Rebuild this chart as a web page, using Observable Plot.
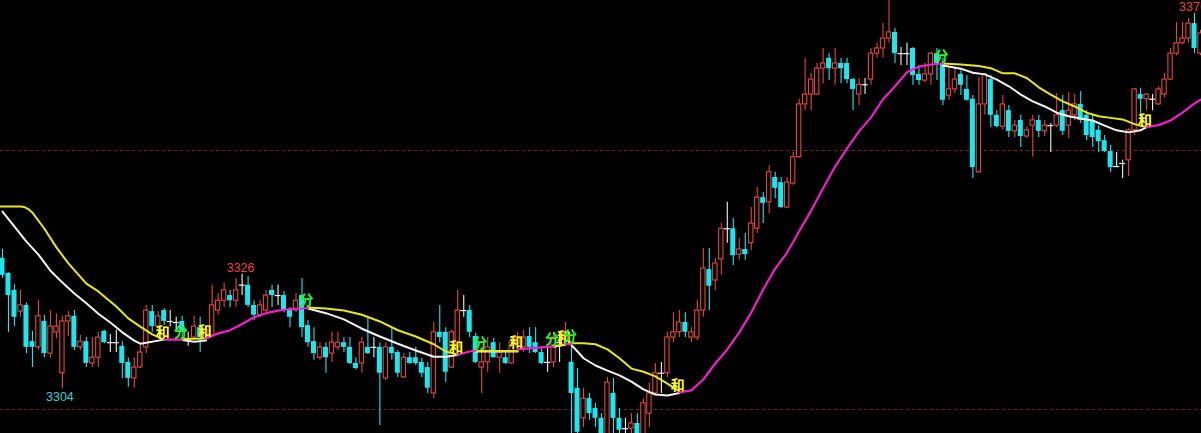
<!DOCTYPE html>
<html>
<head>
<meta charset="utf-8">
<script src="https://cdn.jsdelivr.net/npm/d3@7"></script>
<script src="https://cdn.jsdelivr.net/npm/@observablehq/plot@0.6"></script>
<style>
html,body{margin:0;padding:0;background:#000;overflow:hidden;}
#chart svg{display:block;}
</style>
</head>
<body>
<div id="chart"></div>
<script>
// ---- candle data (index 0..200) ----
const opens = [
3329.2,3326.3,3323.0,3318.9,3320.1,3313.1,3312.0,3317.0,3310.8,3314.9,
3307.0,3317.0,3318.0,3312.0,3313.1,3308.9,3310.0,3315.1,3312.9,3312.9,
3312.2,3309.1,3306.0,3308.1,3312.0,3318.9,3316.0,3319.1,3317.0,3316.8,
3317.0,3313.7,3313.9,3315.8,3313.7,3314.3,3319.1,3321.0,3322.0,3321.0,
3324.0,3324.0,3320.1,3318.2,3319.1,3323.0,3322.0,3322.0,3319.1,3319.1,
3322.0,3316.2,3313.1,3310.0,3312.0,3310.8,3312.0,3312.9,3312.0,3308.9,
3308.9,3312.0,3312.0,3312.0,3306.0,3312.0,3311.0,3306.2,3310.0,3310.0,
3309.1,3308.1,3303.1,3314.9,3314.9,3308.1,3312.0,3319.1,3319.1,3314.1,
3308.1,3309.1,3312.9,3310.0,3310.0,3308.9,3312.7,3312.0,3314.1,3312.9,
3311.0,3309.1,3309.1,3312.9,3313.9,3309.1,3304.1,3298.3,3302.1,3300.2,
3298.3,3294.8,3303.1,3298.3,3296.3,3296.3,3297.3,3294.8,3299.2,3303.1,
3307.0,3307.0,3313.9,3314.9,3316.8,3313.9,3313.9,3319.1,3327.0,3324.9,
3329.0,3334.9,3334.9,3329.9,3330.9,3332.1,3334.9,3340.9,3340.0,3344.8,
3343.8,3339.0,3343.6,3348.7,3358.9,3360.8,3360.8,3365.8,3367.8,3365.8,
3366.8,3366.8,3363.7,3360.8,3362.7,3363.7,3368.7,3369.7,3371.6,3372.8,
3368.7,3368.7,3369.7,3364.7,3363.5,3364.7,3368.7,3366.8,3360.6,3361.8,
3364.7,3361.8,3359.9,3345.8,3358.9,3363.7,3356.8,3354.6,3357.7,3353.7,
3355.8,3352.7,3354.8,3355.8,3353.7,3354.8,3354.8,3357.7,3354.8,3356.8,
3358.9,3356.8,3355.8,3353.9,3351.9,3349.8,3346.9,3347.5,3348.1,3353.9,
3360.8,3359.9,3359.9,3358.9,3360.8,3363.7,3368.7,3370.7,3371.6,3374.5,3368.7
];
const highs = [
3330.9,3326.4,3324.1,3323.0,3320.6,3315.1,3321.0,3318.2,3319.1,3318.5,
3318.0,3318.9,3319.1,3314.3,3313.9,3313.9,3314.9,3315.3,3314.5,3315.3,
3313.1,3310.0,3310.0,3312.7,3320.1,3320.1,3318.9,3319.5,3319.1,3317.8,
3318.0,3314.9,3318.0,3317.8,3316.2,3324.0,3322.4,3324.4,3323.0,3325.3,
3326.1,3325.7,3321.0,3321.0,3323.0,3324.0,3324.0,3322.8,3319.7,3322.4,
3325.3,3317.2,3315.8,3312.9,3312.9,3314.9,3314.9,3313.9,3313.9,3310.0,
3313.9,3317.8,3313.9,3312.9,3312.9,3315.8,3311.4,3310.8,3311.0,3312.0,
3309.9,3309.1,3316.8,3320.1,3315.8,3315.3,3323.0,3322.0,3320.1,3314.7,
3312.0,3313.9,3313.7,3312.9,3311.0,3313.9,3314.9,3315.3,3315.8,3315.8,
3312.0,3312.0,3314.9,3314.9,3316.8,3312.4,3307.9,3304.1,3303.1,3301.2,
3299.2,3306.2,3306.0,3300.2,3298.3,3299.2,3299.2,3302.1,3305.1,3308.9,
3309.1,3314.9,3318.7,3319.1,3318.7,3315.8,3321.0,3331.1,3331.1,3329.2,
3335.9,3340.0,3336.9,3333.0,3334.0,3339.0,3342.9,3341.9,3347.1,3345.8,
3344.8,3344.8,3349.6,3359.9,3367.8,3364.9,3366.8,3369.7,3368.7,3369.7,
3367.8,3367.8,3363.9,3363.9,3363.9,3369.7,3370.7,3374.5,3380.0,3373.6,
3369.9,3370.7,3369.9,3366.4,3366.8,3369.0,3369.7,3367.8,3366.0,3365.8,
3365.4,3364.5,3360.6,3364.1,3364.9,3364.5,3357.7,3360.6,3358.7,3355.8,
3356.8,3354.6,3356.8,3356.8,3355.8,3355.2,3361.0,3360.6,3361.2,3360.8,
3361.4,3357.7,3356.8,3354.8,3352.9,3351.0,3349.6,3348.1,3354.2,3362.0,
3362.0,3361.0,3360.8,3362.2,3364.9,3369.7,3374.7,3374.7,3375.5,3376.5,3373.2
];
const lows = [
3325.3,3314.9,3316.0,3317.8,3310.8,3308.1,3311.4,3310.0,3309.9,3313.7,
3304.0,3314.1,3311.4,3311.4,3308.1,3308.1,3308.1,3312.7,3311.0,3311.0,
3306.0,3304.3,3304.1,3307.9,3310.8,3314.9,3315.3,3316.2,3316.0,3314.9,
3313.7,3312.2,3313.7,3311.0,3313.3,3313.9,3318.2,3319.7,3319.7,3319.7,
3322.0,3319.7,3317.2,3317.8,3318.5,3319.7,3320.1,3318.7,3315.8,3318.7,
3313.9,3312.0,3309.5,3309.5,3307.0,3309.1,3311.4,3311.0,3308.7,3307.7,
3307.0,3310.6,3310.0,3296.9,3305.6,3309.5,3306.2,3306.0,3308.7,3308.5,
3306.2,3303.1,3302.1,3312.9,3305.2,3307.9,3311.4,3317.8,3313.9,3308.9,
3303.1,3307.2,3309.9,3307.0,3308.7,3308.7,3312.4,3311.0,3310.8,3310.8,
3308.7,3307.2,3308.1,3309.1,3313.3,3294.0,3294.0,3296.5,3297.9,3296.5,
3294.0,3294.0,3294.0,3294.0,3294.0,3294.0,3294.0,3294.0,3296.5,3302.7,
3303.1,3306.2,3312.9,3313.9,3313.9,3312.9,3313.3,3317.8,3319.1,3323.0,
3325.9,3332.1,3327.8,3328.8,3328.8,3330.7,3334.0,3335.9,3337.8,3340.7,
3338.8,3338.8,3343.3,3348.5,3357.7,3357.7,3360.6,3362.9,3363.5,3362.6,
3362.9,3362.9,3357.7,3358.7,3360.8,3362.6,3367.8,3367.8,3370.7,3366.8,
3366.4,3366.4,3362.6,3362.6,3363.1,3362.6,3363.5,3358.7,3359.7,3361.0,
3360.6,3359.5,3344.6,3345.6,3356.8,3354.4,3354.4,3353.9,3352.5,3352.5,
3350.6,3352.3,3348.7,3352.5,3352.7,3349.6,3354.4,3352.9,3352.3,3355.8,
3355.2,3351.9,3350.6,3349.6,3349.6,3345.8,3346.7,3344.6,3345.0,3352.9,
3355.8,3357.7,3357.7,3358.7,3360.2,3363.5,3368.3,3370.5,3370.7,3368.7,3368.3
];
const closes = [
3325.9,3322.0,3317.8,3320.1,3312.0,3312.0,3318.0,3310.8,3316.0,3316.0,
3317.0,3318.0,3312.0,3313.1,3308.9,3310.0,3313.9,3312.9,3312.9,3312.9,
3308.9,3306.0,3308.1,3311.0,3319.1,3316.0,3318.0,3317.0,3317.0,3316.8,
3314.9,3313.7,3316.0,3313.9,3315.3,3320.1,3321.0,3323.0,3321.0,3323.0,
3324.0,3320.1,3318.2,3320.1,3322.0,3322.0,3322.0,3319.1,3317.8,3321.0,
3315.8,3312.9,3310.8,3312.0,3310.0,3312.9,3312.9,3312.0,3308.9,3307.9,
3312.9,3310.8,3312.0,3307.0,3312.0,3310.8,3307.0,3310.0,3308.9,3308.9,
3307.0,3304.1,3314.9,3313.9,3307.2,3314.9,3319.1,3319.1,3314.9,3309.1,
3309.1,3312.0,3310.0,3311.0,3308.9,3312.9,3313.9,3313.9,3312.0,3311.0,
3308.9,3309.1,3313.9,3312.9,3314.9,3303.1,3295.6,3302.1,3299.2,3298.3,
3295.0,3305.2,3298.3,3296.0,3296.3,3297.3,3294.8,3301.2,3303.1,3307.0,
3307.0,3313.9,3314.9,3316.8,3314.9,3314.9,3319.1,3327.2,3323.8,3328.2,
3334.9,3334.9,3329.7,3330.9,3329.9,3335.9,3340.9,3339.8,3345.8,3342.7,
3339.0,3343.8,3348.7,3358.9,3360.8,3363.7,3365.8,3366.8,3365.8,3366.8,
3365.8,3363.7,3361.8,3362.7,3362.7,3368.7,3369.7,3371.6,3372.8,3368.7,
3368.7,3368.7,3364.5,3363.5,3364.7,3368.7,3366.8,3359.7,3361.8,3363.7,
3362.6,3359.7,3346.7,3358.9,3364.7,3356.8,3354.6,3358.9,3353.7,3354.8,
3352.7,3353.9,3355.8,3353.7,3354.8,3354.8,3356.8,3353.7,3357.7,3358.9,
3355.8,3352.9,3352.5,3351.7,3349.8,3346.7,3346.9,3347.5,3353.9,3361.8,
3359.9,3360.8,3359.9,3361.8,3363.7,3368.7,3370.7,3371.6,3374.5,3369.7,3372.6
];

// ---- indicator lines: [candle index, value], one array per visible segment ----
const whiteSegs = [
  [[0,3338.2],[2,3335.3],[4,3332.4],[6,3329.9],[8,3326.8],[10,3324.5],[12,3322.4],[14,3320.5],[16,3318.5],[18,3316.8],[20,3314.9],[22,3313.3],[23,3312.7],[24,3312.9],[26,3313.3],[27,3313.5]],
  [[30,3313.4],[32,3313.1],[34,3313.3]],
  [[51,3319.5],[54,3318.6],[57,3317.4],[60,3315.6],[63,3314.1],[66,3312.7],[69,3311.4],[72,3310.2],[74,3310.2],[76,3310.5]],
  [[79,3311.2],[86,3311.2]],
  [[92,3312.1],[94,3312.5]],
  [[95,3312.4],[96,3311.2],[97,3309.9],[99,3308.5],[101,3307.5],[103,3306.6],[105,3305.4],[107,3303.9],[109,3302.9],[111,3302.7],[113,3303.2]],
  [[157,3366.4],[160,3365.8],[162,3365.0],[164,3364.7],[166,3363.7],[168,3362.4],[170,3360.8],[172,3359.5],[174,3358.5],[176,3357.3],[178,3356.6],[180,3356.2],[182,3355.8],[184,3354.8],[186,3353.9],[188,3353.5],[190,3353.9],[191,3354.5]]
];
const yellowSegs = [
  [[-0.4,3339.2],[3,3339.2],[3.6,3339.1],[4.3,3338.7],[5,3338.0],[7,3334.9],[9,3331.3],[11,3328.2],[14,3324.3],[16,3322.8],[19,3319.9],[21,3317.6],[23,3316.0],[25,3314.5],[27,3313.5]],
  [[30,3313.6],[34,3313.7]],
  [[51,3319.7],[54,3319.5],[57,3319.1],[60,3318.3],[63,3317.0],[66,3315.3],[69,3314.1],[72,3312.6],[74,3311.2],[76,3310.6]],
  [[79,3311.3],[86,3311.3]],
  [[92,3312.2],[94,3312.6]],
  [[95,3312.8],[97,3312.8],[99,3312.6],[101,3311.6],[103,3309.9],[105,3307.9],[107,3307.3],[109,3306.4],[111,3305.0],[113,3303.5]],
  [[157,3366.8],[160,3366.6],[163,3366.3],[165,3365.9],[167,3364.9],[169,3364.9],[171,3364.0],[173,3362.2],[175,3360.8],[177,3359.5],[179,3358.5],[181,3357.3],[183,3356.6],[185,3356.3],[187,3356.0],[189,3355.1],[191,3354.5]]
];
const magentaSegs = [
  [[27,3313.5],[30,3313.5]],
  [[34,3313.7],[36,3314.7],[38,3315.3],[40,3316.5],[42,3317.8],[44,3318.6],[46,3319.1],[48,3319.4],[50,3319.5],[51,3319.6]],
  [[76,3310.6],[78,3311.2],[79,3311.4]],
  [[86,3311.6],[89,3311.9],[92,3312.2]],
  [[94,3312.6],[95,3312.7]],
  [[113,3303.3],[115,3303.7],[117,3305.8],[119,3308.9],[121,3311.6],[123,3314.9],[125,3318.7],[127,3323.2],[129,3327.2],[131,3330.3],[133,3334.4],[135,3338.4],[137,3342.7],[139,3346.9],[141,3350.4],[143,3353.7],[145,3356.4],[147,3359.9],[149,3362.4],[151,3365.1],[153,3366.2],[155,3366.6],[157,3366.8]],
  [[191,3354.5],[193,3354.9],[195,3355.8],[197,3357.3],[199,3359.1],[200,3359.8]]
];

// ---- signal markers ----
const markerIdx  = [27, 30, 34, 51, 76, 80, 86, 92, 94, 95, 113, 157, 191];
const markerText = ["和","分","和","分","和","分","和","分","和","分","和","分","和"];
const markerVal  = [3313.5,3313.5,3313.7,3319.6,3310.6,3311.3,3311.6,3312.2,3312.6,3312.8,3303.3,3366.8,3354.5];

// ---- extreme labels ----
const highLabelIdx  = [40, 199];
const highLabelText = ["3326", "3376"];
const lowLabelIdx   = [10];
const lowLabelText  = ["3304"];

// ---- reference levels ----
const gridLevels = [3300, 3350];

const RED = "#e4483e", CYAN = "#1ee6ee", WHITE = "#f4f4f4";

const candles = opens.map((o, i) => ({i, o, h: highs[i], l: lows[i], c: closes[i]}));
const upC = candles.filter(d => d.c > d.o);
const downC = candles.filter(d => d.c < d.o);
const dojiC = candles.filter(d => d.c === d.o);

const flat = segs => segs.flatMap((s, k) => s.map(([i, v]) => ({i, v, k})));
const markers = markerIdx.map((i, k) => ({i, v: markerVal[k], t: markerText[k]}));
const highLabels = highLabelIdx.map((i, k) => ({i, v: highs[i], t: highLabelText[k]}));
const lowLabels = lowLabelIdx.map((i, k) => ({i, v: lows[i], t: lowLabelText[k]}));

const chart = Plot.plot({
  width: 1201,
  height: 433,
  margin: 0,
  style: {background: "#000", overflow: "hidden"},
  x: {type: "linear", domain: [-2 / 5.99, 1199 / 5.99], axis: null},
  y: {type: "linear", domain: [3295.37, 3378.96], axis: null},
  marks: [
    Plot.ruleY(gridLevels, {stroke: "#8a1e1e", strokeWidth: 1, strokeDasharray: "3,3"}),
    Plot.ruleX(upC, {x: "i", y1: "l", y2: "h", stroke: RED, strokeWidth: 1.1, clip: true}),
    Plot.ruleX(downC, {x: "i", y1: "l", y2: "h", stroke: CYAN, strokeWidth: 1.1, clip: true}),
    Plot.ruleX(dojiC, {x: "i", y1: "l", y2: "h", stroke: WHITE, strokeWidth: 1.1, clip: true}),
    Plot.rect(upC, {x1: d => d.i - 0.36, x2: d => d.i + 0.36, y1: "o", y2: "c", fill: "#000", stroke: RED, strokeWidth: 1.1, clip: true}),
    Plot.rect(downC, {x1: d => d.i - 0.42, x2: d => d.i + 0.42, y1: "o", y2: "c", fill: CYAN, clip: true}),
    Plot.ruleY(dojiC, {x1: d => d.i - 0.5, x2: d => d.i + 0.5, y: "o", stroke: WHITE, strokeWidth: 1.2}),
    Plot.line(flat(whiteSegs), {x: "i", y: "v", z: "k", stroke: "#f4f4f4", strokeWidth: 2}),
    Plot.line(flat(yellowSegs), {x: "i", y: "v", z: "k", stroke: "#e8e81a", strokeWidth: 2}),
    Plot.line(flat(magentaSegs), {x: "i", y: "v", z: "k", stroke: "#f21ec8", strokeWidth: 2.2}),
    Plot.text(markers, {
      x: "i", y: "v", text: "t", dx: -1.5, dy: -7, lineAnchor: "middle",
      fill: d => d.t === "和" ? "#ffff2a" : "#33ee33",
      fontSize: 14, fontWeight: "bold", fontFamily: "Noto Sans CJK SC"
    }),
    Plot.text(highLabels, {
      x: "i", y: "v", text: "t", dx: -1.5, dy: -2.5, lineAnchor: "bottom",
      fill: RED, fontSize: 12.5, fontFamily: "Liberation Sans, Arial, sans-serif"
    }),
    Plot.text(lowLabels, {
      x: "i", y: "v", text: "t", dx: -2.5, dy: 3.5, lineAnchor: "top",
      fill: "#3ccbd9", fontSize: 12.5, fontFamily: "Liberation Sans, Arial, sans-serif"
    })
  ]
});
document.getElementById("chart").appendChild(chart);
</script>
</body>
</html>
